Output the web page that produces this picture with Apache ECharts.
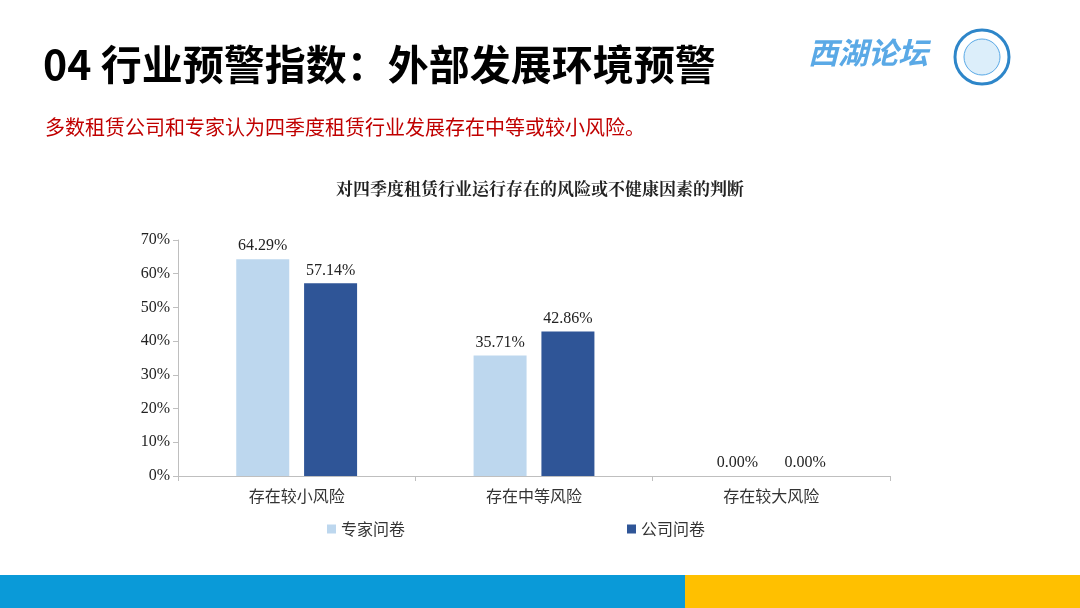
<!DOCTYPE html>
<html><head><meta charset="utf-8">
<script src="https://cdn.jsdelivr.net/npm/echarts@6/dist/echarts.min.js"></script>
<style>html,body{margin:0;padding:0;background:#fff}#c{width:1080px;height:608px}</style>
</head><body><div id="c"></div>
<script>
const categories = ['存在较小风险','存在中等风险','存在较大风险'];
const expertValues = [64.29, 35.71, 0.00];
const companyValues = [57.14, 42.86, 0.00];
const seriesNames = ['专家问卷','公司问卷'];
const chart = echarts.init(document.getElementById('c'));
const serif = 'Liberation Serif, serif';
const cjk = 'Noto Sans CJK SC';
chart.setOption({
  animation:false,
  title:{text:'对四季度租赁行业运行存在的风险或不健康因素的判断',left:'center',top:175,
    textStyle:{fontFamily:'Noto Serif CJK SC, '+cjk,fontSize:17,fontWeight:'bold',color:'#222'}},
  graphic:[
    {type:'text',left:43,top:44,style:{text:'04 行业预警指数：外部发展环境预警',font:'bold 41px '+cjk,fill:'#000'}},
    {type:'text',left:45,top:117,style:{text:'多数租赁公司和专家认为四季度租赁行业发展存在中等或较小风险。',font:'20px '+cjk,fill:'#C00000'}},
    {type:'text',left:808,top:38,style:{text:'西湖论坛',font:'italic bold 30px '+cjk,fill:'#5AA9E6'}},
    {type:'circle',shape:{cx:982,cy:57,r:27},style:{fill:'#fff',stroke:'#2E86C9',lineWidth:3}},
    {type:'circle',shape:{cx:982,cy:57,r:18},style:{fill:'#DCEEFA',stroke:'#5AA9E6',lineWidth:1}},
    {type:'rect',shape:{x:0,y:575,width:685,height:33},style:{fill:'#0A9AD8'}},
    {type:'rect',shape:{x:685,y:575,width:395,height:33},style:{fill:'#FFC000'}}
  ],
  legend:{bottom:66,left:322,itemWidth:9,itemHeight:9,itemGap:222,icon:'rect',
    textStyle:{fontFamily:cjk,fontSize:16,color:'#333'}},
  grid:{left:178,right:190,top:240,bottom:132},
  xAxis:{type:'category',data:categories,
    axisLine:{lineStyle:{color:'#BFBFBF'}},axisTick:{show:true,lineStyle:{color:'#BFBFBF'}},
    axisLabel:{fontFamily:cjk,fontSize:16,color:'#333',margin:12}},
  yAxis:{type:'value',min:0,max:70,interval:10,
    axisLine:{show:true,lineStyle:{color:'#BFBFBF'}},axisTick:{show:true,lineStyle:{color:'#BFBFBF'}},
    splitLine:{show:false},
    axisLabel:{formatter:'{value}%',fontFamily:serif,fontSize:16,color:'#222'}},
  series:[
    {name:seriesNames[0],type:'bar',data:expertValues,barWidth:53,barGap:'28%',itemStyle:{color:'#BDD7EE'},
     label:{show:true,position:'top',formatter:p=>p.value.toFixed(2)+'%',fontFamily:serif,fontSize:16,color:'#222'}},
    {name:seriesNames[1],type:'bar',data:companyValues,barWidth:53,itemStyle:{color:'#2F5597'},
     label:{show:true,position:'top',formatter:p=>p.value.toFixed(2)+'%',fontFamily:serif,fontSize:16,color:'#222'}}
  ]
});
</script></body></html>
